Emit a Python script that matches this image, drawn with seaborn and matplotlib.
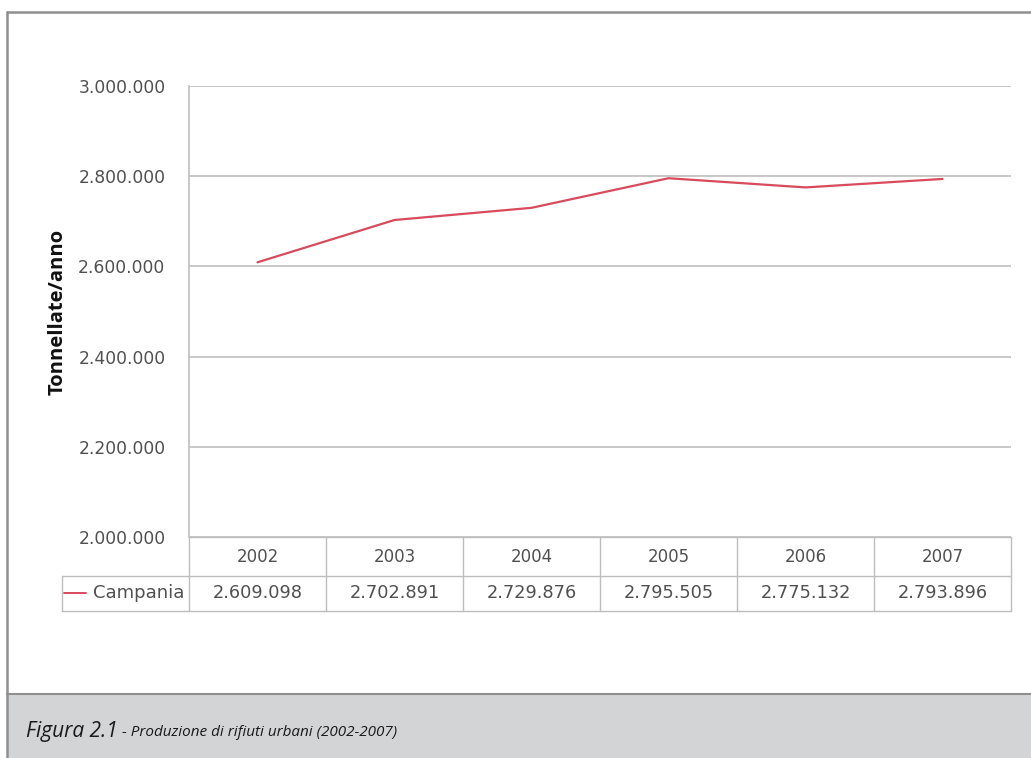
import matplotlib
matplotlib.use("Agg")
import matplotlib.pyplot as plt
import matplotlib.transforms as mtransforms
from matplotlib.ticker import FuncFormatter, FixedLocator
import seaborn as sns
import pandas as pd

# ---- data ----
years = ["2002", "2003", "2004", "2005", "2006", "2007"]
campania = [2609098, 2702891, 2729876, 2795505, 2775132, 2793896]
series_name = "Campania"
y_ticks = [2000000, 2200000, 2400000, 2600000, 2800000, 3000000]
y_label = "Tonnellate/anno"
caption_bold = "Figura 2.1"
caption_rest = " - Produzione di rifiuti urbani (2002-2007)"

sns.set_theme(style="white")
plt.rcParams["font.family"] = ["Open Sans", "DejaVu Sans"]
num_font = ["DejaVu Sans"]

W, H = 1031, 758
fig = plt.figure(figsize=(W / 100, H / 100), dpi=100)
fig.patch.set_facecolor("white")

def fx(x):
    return x / W

def fy(y):
    return 1 - y / H

# axes placement (pixels): left 189, right 1011, top 86, bottom 537
ax = fig.add_axes([fx(189), fy(537), fx(1011) - fx(189), fy(86) - fy(537)])

df = pd.DataFrame({"anno": years, "valore": campania})
line_color = "#d84b5d"
sns.lineplot(data=df, x="anno", y="valore", ax=ax, color=line_color,
             linewidth=1.6, sort=False)

ax.set_xlim(-0.5, len(years) - 0.5)
ax.set_ylim(y_ticks[0], y_ticks[-1])
ax.yaxis.set_major_locator(FixedLocator(y_ticks))
ax.yaxis.set_major_formatter(FuncFormatter(lambda v, p: f"{int(v):,}".replace(",", ".")))
ax.set_xticks([])
ax.set_xlabel("")
ax.set_ylabel(y_label, fontsize=14.5, fontweight="bold", color="#111111")
ax.yaxis.set_label_coords(-0.148, 0.5)
ax.tick_params(axis="y", length=0, pad=17, labelsize=12.3, labelcolor="#505050")
for lbl in ax.get_yticklabels():
    lbl.set_family(num_font)
ax.grid(axis="y", color="#bfbfbf", linewidth=1.2)
ax.set_axisbelow(True)
for s in ["top", "right", "bottom"]:
    ax.spines[s].set_visible(False)
ax.spines["left"].set_color("#bfbfbf")
ax.spines["left"].set_linewidth(1.2)
ax.set_facecolor("white")

# ---- data table below the axes (x in data coords, y in axes fraction) ----
trans = mtransforms.blended_transform_factory(ax.transData, ax.transAxes)
tc = "#bdbdbd"
y_top, y_mid, y_bot = 0.0, -0.0865, -0.164
x_left_label = -1.427
n = len(years)
kw = dict(transform=trans, clip_on=False, color=tc, linewidth=1.0)
ax.plot([-0.5, n - 0.5], [y_top, y_top], **kw)
ax.plot([x_left_label, n - 0.5], [y_mid, y_mid], **kw)
ax.plot([x_left_label, n - 0.5], [y_bot, y_bot], **kw)
for i in range(n + 1):
    ax.plot([i - 0.5, i - 0.5], [y_top, y_bot], **kw)
ax.plot([x_left_label, x_left_label], [y_mid, y_bot], **kw)

for i, (yr, v) in enumerate(zip(years, campania)):
    ax.text(i, (y_top + y_mid) / 2, yr, transform=trans, ha="center", va="center",
            fontsize=12, color="#505050", family=num_font)
    ax.text(i, (y_mid + y_bot) / 2, f"{v:,}".replace(",", "."), transform=trans,
            ha="center", va="center", fontsize=12.8, color="#505050", family=num_font)

# legend key in the row-label cell
ax.plot([-1.41, -1.25], [(y_mid + y_bot) / 2] * 2, transform=trans, clip_on=False,
        color=line_color, linewidth=1.4)
ax.text(-0.535, (y_mid + y_bot) / 2, series_name, transform=trans, ha="right",
        va="center", fontsize=13, color="#505050", family=num_font)

# ---- outer frame and caption band ----
frame_c = "#8f8f8f"
fig.add_artist(plt.Rectangle((fx(7), fy(758)), fx(1031) - fx(7), fy(694) - fy(758),
                             transform=fig.transFigure, facecolor="#d3d4d6",
                             edgecolor="none", zorder=0))
fig.add_artist(plt.Line2D([fx(7), fx(1031)], [fy(12), fy(12)], color=frame_c, lw=1.8))
fig.add_artist(plt.Line2D([fx(7), fx(7)], [fy(12), fy(758)], color=frame_c, lw=1.8))
fig.add_artist(plt.Line2D([fx(7), fx(1031)], [fy(694), fy(694)], color=frame_c, lw=1.5))

t1 = fig.text(fx(26), fy(731), caption_bold, fontsize=15, style="italic",
              color="#1a1a1a", va="center", ha="left")
fig.canvas.draw()
bb = t1.get_window_extent()
fig.text(bb.x1 / W, fy(732), caption_rest, fontsize=11, style="italic",
         color="#1a1a1a", va="center", ha="left")

fig.savefig("out.png", dpi=100)
